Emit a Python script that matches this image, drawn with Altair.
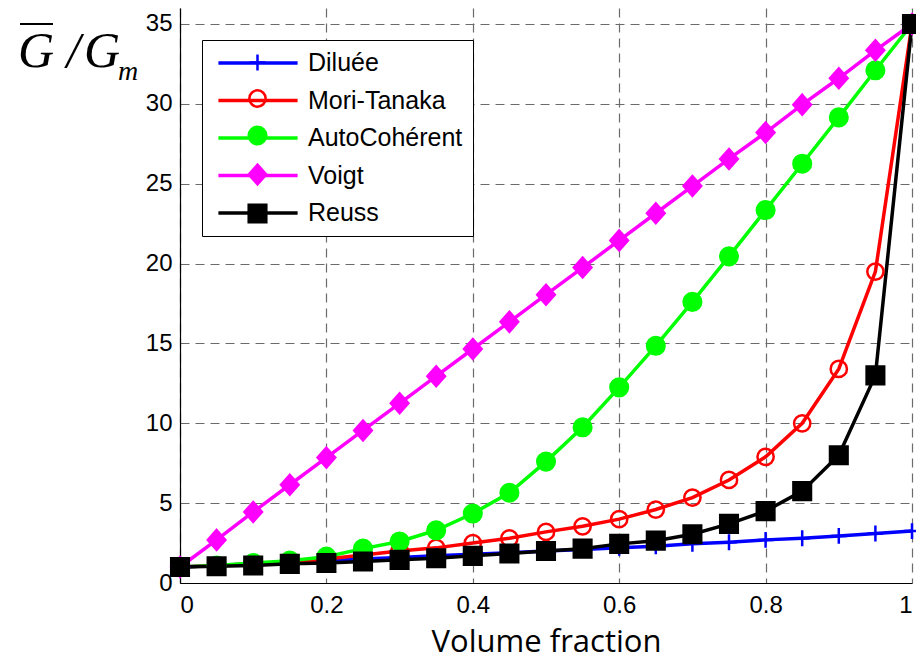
import altair as alt
import pandas as pd

# ---- data ----
fractions = [0.0, 0.05, 0.1, 0.15, 0.2, 0.25, 0.3, 0.35, 0.4, 0.45, 0.5,
             0.55, 0.6, 0.65, 0.7, 0.75, 0.8, 0.85, 0.9, 0.95, 1.0]
diluee = [1.0, 1.1, 1.2, 1.3, 1.4, 1.5, 1.6, 1.7, 1.8, 1.9, 2.0,
          2.1, 2.2, 2.3, 2.45, 2.55, 2.7, 2.8, 2.95, 3.1, 3.25]
mori_tanaka = [1.0, 1.1, 1.2, 1.3, 1.5, 1.75, 2.0, 2.2, 2.5, 2.8, 3.2,
               3.55, 4.0, 4.6, 5.35, 6.45, 7.9, 10.0, 13.4, 19.5, 35.0]
auto_coherent = [1.0, 1.1, 1.25, 1.4, 1.65, 2.15, 2.6, 3.3, 4.35, 5.65, 7.6,
                 9.75, 12.25, 14.85, 17.6, 20.45, 23.35, 26.25, 29.15, 32.1, 35.0]
voigt = [1.0, 2.7, 4.45, 6.15, 7.85, 9.55, 11.25, 12.95, 14.65, 16.35, 18.05,
         19.75, 21.45, 23.15, 24.85, 26.55, 28.2, 29.95, 31.6, 33.35, 35.0]
reuss = [1.0, 1.05, 1.1, 1.2, 1.25, 1.35, 1.45, 1.55, 1.7, 1.85, 2.0,
         2.15, 2.45, 2.65, 3.05, 3.7, 4.5, 5.75, 8.0, 13.0, 35.0]

series_names = ["Diluée", "Mori-Tanaka", "AutoCohérent", "Voigt", "Reuss"]
series_values = [diluee, mori_tanaka, auto_coherent, voigt, reuss]
x_ticks = [0, 0.2, 0.4, 0.6, 0.8, 1]
y_ticks = [0, 5, 10, 15, 20, 25, 30, 35]

# ---- styling ----
stroke_colors = ["#0000ff", "#ff0000", "#00ff00", "#ff00ff", "#000000"]
fill_colors = ["transparent", "transparent", "#00ff00", "#ff00ff", "#000000"]
marker_paths = [
    "M-0.72,0H0.72M0,-0.72V0.72",
    "M0.74,0A0.74,0.74 0 1,1 -0.74,0A0.74,0.74 0 1,1 0.74,0Z",
    "M0.8,0A0.8,0.8 0 1,1 -0.8,0A0.8,0.8 0 1,1 0.8,0Z",
    "M0,-0.9L0.8,0L0,0.9L-0.8,0Z",
    "M-0.8,-0.8H0.8V0.8H-0.8Z",
]

rows = []
for name, vals in zip(series_names, series_values):
    for xv, yv in zip(fractions, vals):
        rows.append({"series": name, "x": xv, "y": yv})
df = pd.DataFrame(rows)

LABEL_FONT = "Liberation Sans"

x_enc = alt.X("x:Q",
              scale=alt.Scale(domain=[0, 1], nice=False, zero=False),
              axis=alt.Axis(values=x_ticks, format="~g", title="Volume fraction",
                            titleFont="Open Sans", titleFontSize=31,
                            titleFontWeight="normal", titleColor="black",
                            titlePadding=10, labelPadding=10))
y_enc = alt.Y("y:Q",
              scale=alt.Scale(domain=[0, 36], nice=False, zero=True),
              axis=alt.Axis(values=y_ticks, format="d", title=None, labelPadding=8))

common_legend = dict(title=None, orient="none", labelFont=LABEL_FONT,
                     labelFontSize=25, labelColor="black",
                     padding=10, labelLimit=400, legendX=22, legendY=32,
                     symbolSize=484, symbolOffset=33, labelOffset=37)

line_legend = alt.Legend(symbolType="M-3.6,0H3.6", symbolStrokeWidth=3.5,
                         strokeColor="black", fillColor="white", rowPadding=11.5,
                         **common_legend)
marker_legend = alt.Legend(symbolStrokeWidth=2.5, labelExpr="' '", rowPadding=9,
                           **common_legend)

stroke_scale = alt.Scale(domain=series_names, range=stroke_colors)

lines = alt.Chart(df).mark_line(strokeWidth=3.5).encode(
    x=x_enc, y=y_enc,
    stroke=alt.Stroke("series:N", scale=stroke_scale, legend=line_legend),
)

points = alt.Chart(df).mark_point(filled=False, strokeWidth=2.5, size=484,
                                  opacity=1).encode(
    x=x_enc, y=y_enc,
    stroke=alt.Stroke("series:N", scale=stroke_scale, legend=marker_legend),
    fill=alt.Fill("series:N", scale=alt.Scale(domain=series_names, range=fill_colors),
                  legend=marker_legend),
    shape=alt.Shape("series:N", scale=alt.Scale(domain=series_names, range=marker_paths),
                    legend=marker_legend),
)

# y-axis label  G(bar) / G_m
SERIF = dict(font="Liberation Serif", fontStyle="italic", align="left",
             baseline="alphabetic", color="black")
g1_text = alt.Chart(pd.DataFrame({"t": ["G /"]})).mark_text(fontSize=50, **SERIF).encode(
    text="t:N", x=alt.value(-162), y=alt.value(59))
g2_text = alt.Chart(pd.DataFrame({"t": ["G"]})).mark_text(fontSize=50, **SERIF).encode(
    text="t:N", x=alt.value(-96), y=alt.value(59))
m_text = alt.Chart(pd.DataFrame({"t": ["m"]})).mark_text(fontSize=28, **SERIF).encode(
    text="t:N", x=alt.value(-62), y=alt.value(72))
overline = alt.Chart(pd.DataFrame({"t": ["bar"]})).mark_rule(
    color="black", strokeWidth=2
).encode(x=alt.value(-160), x2=alt.value(-127), y=alt.value(16))

chart = alt.layer(lines, points, g1_text, g2_text, m_text, overline).resolve_scale(
    stroke="independent", fill="independent", shape="independent"
).resolve_legend(
    stroke="independent", fill="independent", shape="independent"
).properties(
    width=732, height=575,
    padding={"left": 180, "top": 8, "right": 4, "bottom": 80},
    autosize=alt.AutoSizeParams(type="none"),
    background="white",
).configure_view(stroke=None).configure_axis(
    labelFont=LABEL_FONT, labelFontSize=24, labelColor="black",
    domainColor="black", domainWidth=1.2, ticks=False,
    grid=True, gridColor="#6b6b6b", gridDash=[9, 6], gridWidth=1.2, gridOpacity=1,
)

chart.save("out.html", embed_options={"renderer": "svg", "actions": False})
